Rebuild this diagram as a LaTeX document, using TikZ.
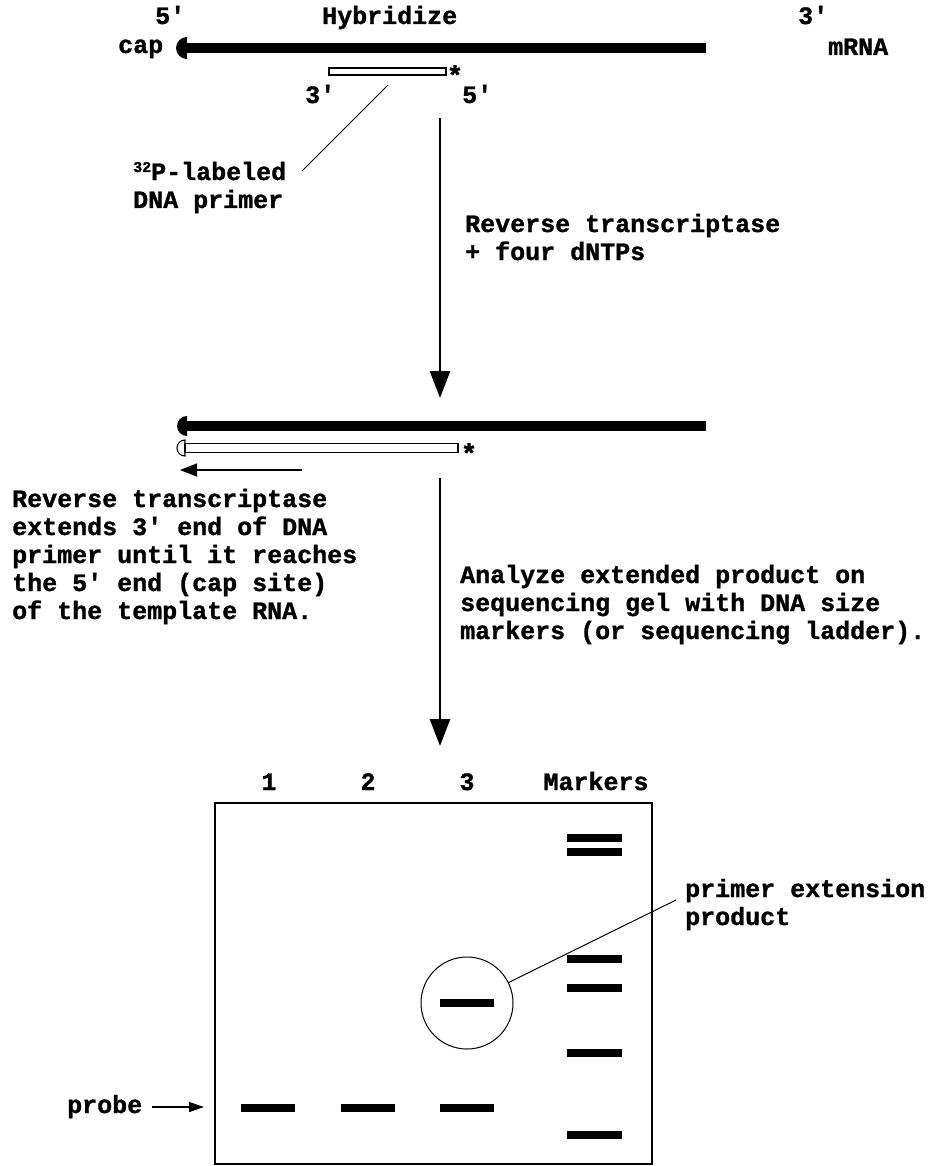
\documentclass[tikz,border=0pt]{standalone}
\usepackage{fontspec}
\setmonofont{Liberation Mono}[BoldFeatures={FakeBold=1.2}]
\usetikzlibrary{arrows.meta}
\begin{document}
\begin{tikzpicture}[x=1pt,y=-1pt,
  lbl/.style={font=\ttfamily\bfseries\fontsize{25}{28}\selectfont, inner sep=0pt, anchor=base west, align=left},
  ast/.style={font=\ttfamily\bfseries\fontsize{27}{27}\selectfont, inner sep=0pt},
  strand/.style={line width=10pt},
  primerbox/.style={draw, line width=1.1pt, inner sep=0pt, minimum height=7pt},
  bigarrow/.style={line width=2.6pt, -{Triangle[length=27pt,width=20pt]}},
  smallarrow/.style={line width=1.6pt, -{Triangle[length=17pt,width=13pt]}},
  leader/.style={line width=1pt},
  band/.style={fill=black, inner sep=0pt, minimum width=54pt, minimum height=7.5pt},
  gelbox/.style={draw, line width=1.3pt, inner sep=0pt}]
\useasboundingbox (0,0) rectangle (936,1166);

% ---------- top: hybridize ----------
\node[lbl] (t5) at (155,24) {5'};
\node[lbl] (hyb) at (322,24) {Hybridize};
\node[lbl] (t3) at (798,24) {3'};
\node[lbl] (cap1) at (118,53) {cap};
\node[lbl] (mrna) at (828,55) {mRNA};
\coordinate (m1a) at (186,48);
\coordinate (m1b) at (706,48);
\draw[strand] (m1a) -- (m1b);
\fill (187,37) arc[start angle=90,end angle=270,radius=11pt] -- cycle;
\node[primerbox, minimum width=117pt] (primer1) at (387.5,71.5) {};
\node[ast] (ast1) at (455,75) {*};
\node[lbl] (p3) at (305,103) {3'};
\node[lbl] (p5) at (462,103) {5'};
\coordinate (l1a) at (388,85);
\coordinate (l1b) at (302,171);
\draw[leader] (l1a) -- (l1b);
\node[lbl] (plab) at (133,208) {{\fontsize{15}{15}\selectfont\raisebox{8pt}{32}}P-labeled\\DNA primer};

% ---------- step 1 arrow ----------
\coordinate (a1s) at (440,118);
\coordinate (a1e) at (440,398);
\draw[bigarrow] (a1s) -- (a1e);
\node[lbl] (rt) at (465,260) {Reverse transcriptase\\+ four dNTPs};

% ---------- extended primer ----------
\coordinate (m2a) at (187,426);
\coordinate (m2b) at (706,426);
\draw[strand] (m2a) -- (m2b);
\fill (187,416) arc[start angle=90,end angle=270,radius=10pt] -- cycle;
\node[primerbox, minimum width=273pt, minimum height=9pt] (primer2) at (321.5,448) {};
\draw[line width=1.1pt] (185,440) arc[start angle=90,end angle=270,radius=8pt] -- cycle;
\node[ast] (ast2) at (469,453) {*};
\coordinate (ex1) at (302,470);
\coordinate (ex2) at (180,470);
\draw[smallarrow] (ex1) -- (ex2);
\node[lbl] (rtext) at (12,619) {Reverse transcriptase\\extends 3' end of DNA\\primer until it reaches\\the 5' end (cap site)\\of the template RNA.};

% ---------- step 2 arrow ----------
\coordinate (a2s) at (440,478);
\coordinate (a2e) at (440,746);
\draw[bigarrow] (a2s) -- (a2e);
\node[lbl] (an) at (460,639) {Analyze extended product on\\sequencing gel with DNA size\\markers (or sequencing ladder).};

% ---------- gel ----------
\node[lbl, anchor=base] (lane1) at (269,790) {1};
\node[lbl, anchor=base] (lane2) at (368,790) {2};
\node[lbl, anchor=base] (lane3) at (467,790) {3};
\node[lbl, anchor=base] (lanem) at (596,790) {Markers};
\node[gelbox, minimum width=437pt, minimum height=361pt] (gel) at (433.5,983.5) {};

\node[band] (b1) at (267.5,1108) {};
\node[band] (b2) at (368,1108) {};
\node[band] (b3) at (467,1108) {};
\node[band] (b4) at (467,1003) {};

\node[band, minimum width=55pt] (mk1) at (594.5,838) {};
\node[band, minimum width=55pt] (mk2) at (594.5,852) {};
\node[band, minimum width=55pt] (mk3) at (594.5,959) {};
\node[band, minimum width=55pt] (mk4) at (594.5,988) {};
\node[band, minimum width=55pt] (mk5) at (594.5,1053) {};
\node[band, minimum width=55pt] (mk6) at (594.5,1135) {};

\node[draw, circle, line width=1pt, minimum size=92pt, inner sep=0pt] (circ) at (467,1003) {};
\coordinate (pe) at (676,900);
\draw[leader] (circ) -- (pe);
\node[lbl] (pelab) at (685,925) {primer extension\\product};

\node[lbl] (probe) at (67,1113) {probe};
\coordinate (pr1) at (152,1107);
\coordinate (pr2) at (204,1107);
\draw[line width=1.4pt, -{Triangle[length=15pt,width=10pt]}] (pr1) -- (pr2);
\end{tikzpicture}
\end{document}
